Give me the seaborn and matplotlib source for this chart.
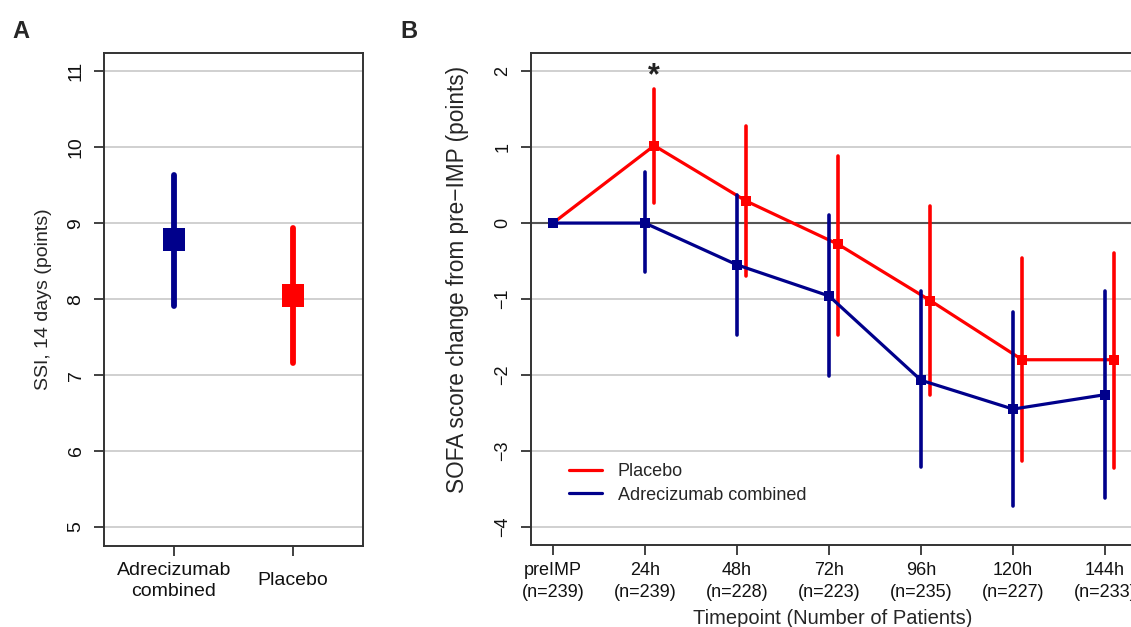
import numpy as np
import pandas as pd
import seaborn as sns
from matplotlib import pyplot as plt
from matplotlib.lines import Line2D

# panel A: SSI at 14 days
groups = ["Adrecizumab\ncombined", "Placebo"]
ssi_mean = [8.78, 8.05]
ssi_lo = [7.91, 7.16]
ssi_hi = [9.63, 8.93]

# panel B: SOFA change from pre-IMP
timepoints = ["preIMP", "24h", "48h", "72h", "96h", "120h", "144h"]
n_patients = [239, 239, 228, 223, 235, 227, 233]
placebo_mean = [0.0, 1.02, 0.29, -0.28, -1.02, -1.80, -1.80]
placebo_lo = [0.0, 0.26, -0.70, -1.47, -2.27, -3.13, -3.22]
placebo_hi = [0.0, 1.77, 1.28, 0.88, 0.22, -0.46, -0.39]
adre_mean = [0.0, 0.0, -0.55, -0.96, -2.07, -2.45, -2.26]
adre_lo = [0.0, -0.65, -1.47, -2.02, -3.21, -3.72, -3.62]
adre_hi = [0.0, 0.67, 0.37, 0.10, -0.90, -1.17, -0.89]

RED = "#FF0000"
BLUE = "#00008B"

sns.set_theme(style="white")
plt.rcParams["font.family"] = ["Liberation Sans", "DejaVu Sans"]
plt.rcParams["axes.unicode_minus"] = True

W, H = 1131, 627
fig = plt.figure(figsize=(W / 100, H / 100), dpi=100)
axA = fig.add_axes([104 / W, 1 - 546 / H, (363 - 104) / W, (546 - 53) / H])
axB = fig.add_axes([531 / W, 1 - 545 / H, (1135 - 531) / W, (545 - 53) / H])


def style_axes(ax, tick_size, ypad):
    for side in ["top", "right", "bottom", "left"]:
        ax.spines[side].set_color("#333333")
        ax.spines[side].set_linewidth(1.4)
    ax.yaxis.grid(True, color="#C8C8C8", lw=1.2)
    ax.xaxis.grid(False)
    ax.set_axisbelow(True)
    ax.tick_params(axis="both", which="both", direction="out", length=7,
                   width=1.3, color="#333333", bottom=True, left=True,
                   labelsize=tick_size, labelcolor="#111111")
    ax.tick_params(axis="y", pad=ypad)
    for lab in ax.get_yticklabels():
        lab.set_rotation(90)
        lab.set_va("center")
        lab.set_ha("right")


# ---- panel A ----
dfA = pd.DataFrame({"group": groups, "ssi": ssi_mean, "pos": [0, 1]})
axA.vlines(dfA["pos"], ssi_lo, ssi_hi, colors=[BLUE, RED], lw=4.2,
           capstyle="round", zorder=2)
sns.scatterplot(data=dfA, x="pos", y="ssi", hue="group", palette=[BLUE, RED],
                marker="s", s=270, linewidth=0, legend=False, ax=axA, zorder=3)
axA.set_xlim(-0.588, 1.588)
axA.set_ylim(4.75, 11.24)
axA.set_yticks(range(5, 12))
axA.set_xticks([0, 1])
axA.set_xticklabels(groups, linespacing=1.3)
axA.set_xlabel("")
axA.set_ylabel("SSI, 14 days (points)", fontsize=14, labelpad=11)
style_axes(axA, 14, 7)
for lab in axA.get_xticklabels():
    lab.set_va("center")
axA.tick_params(axis="x", pad=18)

# ---- panel B ----
dodge = [0, 0.1, 0.1, 0.1, 0.1, 0.1, 0.1]
x0 = np.arange(len(timepoints))
dfB = pd.concat([
    pd.DataFrame({"x": x0 + np.array(dodge), "change": placebo_mean,
                  "group": "Placebo"}),
    pd.DataFrame({"x": x0, "change": adre_mean,
                  "group": "Adrecizumab combined"}),
])
axB.axhline(0, color="#555555", lw=1.5, zorder=1)
axB.vlines(x0 + np.array(dodge), placebo_lo, placebo_hi, colors=RED, lw=2.6,
           capstyle="round", zorder=2)
sns.lineplot(data=dfB[dfB["group"] == "Placebo"], x="x", y="change",
             color=RED, lw=2.3, marker="s", markersize=7, markeredgewidth=0,
             ax=axB, zorder=3)
axB.vlines(x0, adre_lo, adre_hi, colors=BLUE, lw=2.6, capstyle="round",
           zorder=4)
sns.lineplot(data=dfB[dfB["group"] == "Adrecizumab combined"], x="x",
             y="change", color=BLUE, lw=2.3, marker="s", markersize=7,
             markeredgewidth=0, ax=axB, zorder=5)
axB.set_xlim(-0.239, 6.326)
axB.set_ylim(-4.24, 2.24)
axB.set_yticks(range(-4, 3))
axB.set_xticks(x0)
axB.set_xticklabels([f"{t}\n(n={n})" for t, n in zip(timepoints, n_patients)],
                    linespacing=1.4)
axB.set_xlabel("Timepoint (Number of Patients)", fontsize=14.5, labelpad=6)
axB.set_ylabel("SOFA score change from pre\u2212IMP (points)", fontsize=16.3)
style_axes(axB, 13, 7)
axB.tick_params(axis="x", pad=5)
axB.yaxis.set_label_coords(-0.103, 0.54)

axB.text(1.1, 1.93, "*", ha="center", va="center", fontsize=22,
         fontweight="bold", color="#222222")

handles = [Line2D([], [], color=RED, lw=2.3),
           Line2D([], [], color=BLUE, lw=2.3)]
axB.legend(handles, ["Placebo", "Adrecizumab combined"], loc="upper left",
           bbox_to_anchor=(0.063, 0.166), frameon=False, fontsize=13,
           borderpad=0, borderaxespad=0, handlelength=1.8,
           handletextpad=0.9, labelspacing=0.35)

fig.text(12 / W, 1 - 31 / H, "A", fontsize=17, fontweight="bold",
         va="center", ha="left")
fig.text(400 / W, 1 - 31 / H, "B", fontsize=17, fontweight="bold",
         va="center", ha="left")

fig.savefig("out.png", dpi=100, facecolor="white")
